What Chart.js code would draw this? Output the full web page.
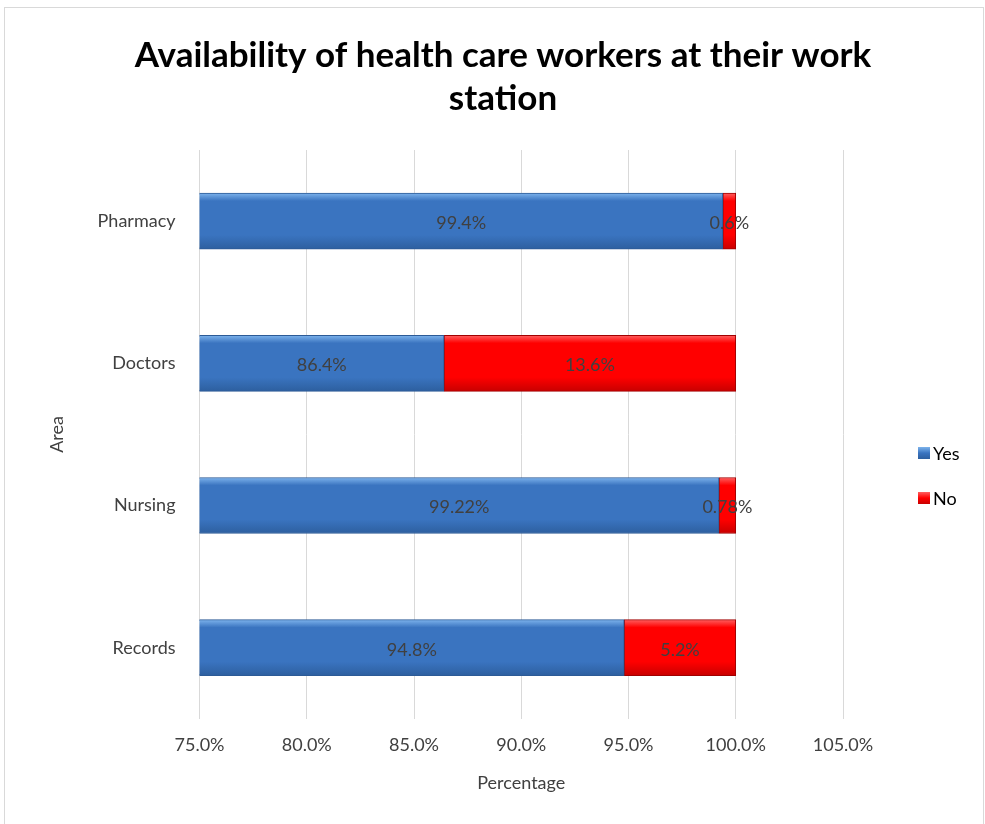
<!DOCTYPE html>
<html>
<head>
<meta charset="utf-8">
<script src="https://cdn.jsdelivr.net/npm/chart.js@4/dist/chart.umd.min.js"></script>
<style>
  html, body { margin: 0; padding: 0; background: #ffffff; }
  #wrap { position: relative; width: 985px; height: 824px; }
  canvas { display: block; }
</style>
</head>
<body>
<div id="wrap"><canvas id="c" width="985" height="824"></canvas></div>
<script>
const categories = ['Pharmacy', 'Doctors', 'Nursing', 'Records'];
const yesValues = [99.4, 86.4, 99.22, 94.8];
const noValues = [0.6, 13.6, 0.78, 5.2];
const yesLabels = ['99.4%', '86.4%', '99.22%', '94.8%'];
const noLabels = ['0.6%', '13.6%', '0.78%', '5.2%'];
const seriesNames = ['Yes', 'No'];
const titleLines = ['Availability of health care workers at their work', 'station'];
const xAxisTitle = 'Percentage';
const yAxisTitle = 'Area';
const xMin = 75, xMax = 105, xStep = 5;

const FONT = 'Lato, "Open Sans", "DejaVu Sans", sans-serif';
const BAR_H = 56;

const frame = {
  id: 'frame',
  beforeDraw(chart) {
    const c = chart.ctx;
    c.save();
    c.fillStyle = '#ffffff';
    c.fillRect(0, 0, chart.width, chart.height);
    c.strokeStyle = '#d9d9d9';
    c.lineWidth = 1;
    c.strokeRect(4.5, 7.5, chart.width - 6, chart.height - 4);
    c.restore();
  }
};

const chartTitle = {
  id: 'chartTitle',
  afterDraw(chart) {
    const c = chart.ctx;
    c.save();
    c.font = 'bold 35px ' + FONT;
    c.fillStyle = '#000000';
    c.textAlign = 'center';
    c.textBaseline = 'middle';
    titleLines.forEach((t, i) => c.fillText(t, 503, 56 + i * 43));
    c.restore();
  }
};

const swatches = [
  ['#7db3ec', '#3a74c0', '#2d5f9f'],
  ['#ff6060', '#ff0000', '#c80000']
];

function barFill(di) {
  return function (ctx) {
    const chart = ctx.chart;
    const ys = chart.scales && chart.scales.y;
    if (!ys || ctx.dataIndex === undefined) return swatches[di][1];
    const yc = ys.getPixelForValue(ctx.dataIndex);
    if (!isFinite(yc)) return swatches[di][1];
    const g = chart.ctx.createLinearGradient(0, yc - BAR_H / 2, 0, yc + BAR_H / 2);
    g.addColorStop(0, swatches[di][0]);
    g.addColorStop(0.14, swatches[di][1]);
    g.addColorStop(0.75, swatches[di][1]);
    g.addColorStop(1, swatches[di][2]);
    return g;
  };
}

const valueLabels = {
  id: 'valueLabels',
  afterDatasetsDraw(chart) {
    const c = chart.ctx;
    const area = chart.chartArea;
    const texts = [yesLabels, noLabels];
    c.save();
    c.font = '18px ' + FONT;
    c.fillStyle = '#404040';
    c.textAlign = 'center';
    c.textBaseline = 'middle';
    chart.data.datasets.forEach((ds, di) => {
      const meta = chart.getDatasetMeta(di);
      meta.data.forEach((el, i) => {
        const lo = Math.max(Math.min(el.x, el.base), area.left);
        const hi = Math.min(Math.max(el.x, el.base), area.right);
        c.fillText(texts[di][i], (lo + hi) / 2, el.y + 2);
      });
    });
    c.restore();
  }
};

const sideLegend = {
  id: 'sideLegend',
  afterDraw(chart) {
    const c = chart.ctx;
    const x0 = 918, ys = [453, 498];
    c.save();
    c.font = '18px ' + FONT;
    c.textBaseline = 'middle';
    c.textAlign = 'left';
    chart.data.datasets.forEach((ds, di) => {
      const y = ys[di];
      const g = c.createLinearGradient(0, y - 6, 0, y + 6);
      g.addColorStop(0, swatches[di][0]);
      g.addColorStop(0.5, swatches[di][1]);
      g.addColorStop(1, swatches[di][2]);
      c.fillStyle = g;
      c.fillRect(x0, y - 6, 12, 12);
      c.fillStyle = '#000000';
      c.fillText(ds.label, x0 + 15, y + 1);
    });
    c.restore();
  }
};

new Chart(document.getElementById('c'), {
  type: 'bar',
  data: {
    labels: categories,
    datasets: [
      { label: seriesNames[0], data: yesValues, backgroundColor: barFill(0), borderColor: '#2c5a96', borderWidth: 1, borderSkipped: false, barThickness: BAR_H },
      { label: seriesNames[1], data: noValues, backgroundColor: barFill(1), borderColor: '#a00000', borderWidth: 1, borderSkipped: false, barThickness: BAR_H }
    ]
  },
  options: {
    indexAxis: 'y',
    responsive: false,
    animation: false,
    devicePixelRatio: 1,
    layout: { padding: { left: 46, right: 142, top: 150, bottom: 30 } },
    scales: {
      x: {
        stacked: true,
        min: xMin, max: xMax,
        ticks: { stepSize: xStep, color: '#404040', font: { size: 18, family: FONT }, padding: 16,
          callback: v => Number(v).toFixed(1) + '%' },
        grid: { color: '#d9d9d9', lineWidth: 1, drawTicks: false },
        border: { display: false },
        title: { display: true, text: xAxisTitle, color: '#404040', font: { size: 18, family: FONT }, padding: { top: 0, bottom: 0 } }
      },
      y: {
        stacked: true,
        ticks: { color: '#404040', font: { size: 18, family: FONT }, padding: 24 },
        grid: { display: false, drawTicks: false },
        border: { display: false },
        title: { display: true, text: yAxisTitle, color: '#404040', font: { size: 18, family: FONT }, padding: { top: 0, bottom: 6 } }
      }
    },
    plugins: {
      title: { display: false },
      legend: { display: false },
      tooltip: { enabled: false }
    }
  },
  plugins: [frame, valueLabels, sideLegend, chartTitle]
});
</script>
</body>
</html>
